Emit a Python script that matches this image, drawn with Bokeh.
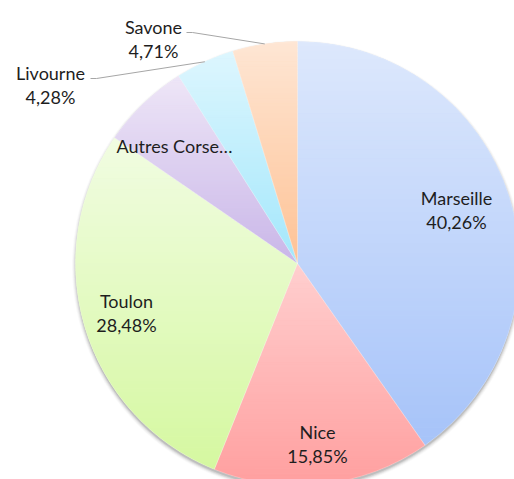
import math
from bokeh.plotting import figure
from bokeh.models import Range1d, ColumnDataSource
from bokeh.core.properties import value
from bokeh.embed import file_html
from bokeh.resources import INLINE

# ---- data ----
cities = ["Marseille", "Nice", "Toulon", "Autres Corse…", "Livourne", "Savone"]
shares = [40.26, 15.85, 28.48, 6.42, 4.28, 4.71]

# ---- style ----
top_colors = ["#dde8fc", "#ffcfcf", "#f1fce2", "#eee6f7", "#ddf6fe", "#fee6d4"]
bot_colors = ["#a6c3f9", "#ff9f9f", "#d5f8a0", "#c9b6e8", "#a3e7fb", "#fec295"]
mid_colors = ["#c2d6fa", "#ffb8b8", "#e3fac0", "#dccdef", "#c0effc", "#fed4b4"]

CX, CY, R = 297.0, -263.0, 222.0
FONT = "Lato"
FS = "18px"
TXT = "#1e1e1e"

# label layout: (x centre, y of first line middle), in image pixels
label_pos = [(456, 197), (317, 431), (126, 300), (174, 145), (50, 72), (153, 26)]
leader_from = {4: (90, 78, 96), 5: (186, 32, 192)}

W, H = 514, 479
p = figure(width=W, height=H, output_backend="svg", toolbar_location=None,
           x_range=Range1d(0, W), y_range=Range1d(-H, 0),
           min_border=0, border_fill_color="white", outline_line_color=None)
p.axis.visible = False
p.xgrid.visible = False
p.ygrid.visible = False

# angles (clockwise from 12 o'clock)
total = sum(shares)
starts, ends, mids = [], [], []
a = 90.0
for s in shares:
    span = 360.0 * s / total
    starts.append(math.radians(a - span))
    ends.append(math.radians(a))
    mids.append(math.radians(a - span / 2))
    a -= span

# soft shadow
for k, al in enumerate([0.10, 0.07, 0.05, 0.03, 0.02]):
    p.circle(x=[CX], y=[CY - 2.5], radius=R + k * 0.9, fill_color="black",
             fill_alpha=al, line_color=None)

src = ColumnDataSource(dict(city=cities, share=shares, start=starts, end=ends,
                            color=mid_colors))
p.wedge(x=CX, y=CY, radius=R, start_angle="start", end_angle="end",
        direction="anticlock", fill_color="color", line_color=None, source=src)


def hexrgb(h):
    return tuple(int(h[i:i + 2], 16) for i in (1, 3, 5))


def lerp(c1, c2, t):
    a1, a2 = hexrgb(c1), hexrgb(c2)
    return "#%02x%02x%02x" % tuple(round(a1[i] + (a2[i] - a1[i]) * t) for i in range(3))


def clip(poly, f):
    out = []
    n = len(poly)
    for i in range(n):
        cur, prev = poly[i], poly[i - 1]
        fc, fp = f(cur), f(prev)
        if fc >= 0:
            if fp < 0:
                t = fp / (fp - fc)
                out.append((prev[0] + t * (cur[0] - prev[0]), prev[1] + t * (cur[1] - prev[1])))
            out.append(cur)
        elif fp >= 0:
            t = fp / (fp - fc)
            out.append((prev[0] + t * (cur[0] - prev[0]), prev[1] + t * (cur[1] - prev[1])))
    return out


xs_all, ys_all, cols_all = [], [], []
NS = 90
for i in range(len(shares)):
    a0, a1 = starts[i], ends[i]
    steps = max(8, int((a1 - a0) / 0.01))
    poly = [(CX, CY)] + [(CX + R * math.cos(a0 + (a1 - a0) * j / steps),
                          CY + R * math.sin(a0 + (a1 - a0) * j / steps)) for j in range(steps + 1)]
    ymax = max(pt[1] for pt in poly)
    ymin = min(pt[1] for pt in poly)
    h = (ymax - ymin) / NS
    for k in range(NS):
        hi = ymax - k * h
        lo = ymax - (k + 1) * h - 0.6
        sub = clip(poly, lambda pt: pt[1] - lo)
        sub = clip(sub, lambda pt: hi - pt[1]) if sub else sub
        if len(sub) < 3:
            continue
        xs_all.append([pt[0] for pt in sub])
        ys_all.append([pt[1] for pt in sub])
        cols_all.append(lerp(top_colors[i], bot_colors[i], (k + 0.5) / NS))

p.patches(xs=xs_all, ys=ys_all, fill_color=cols_all, line_color=None)

# thin slice separators
p.wedge(x=CX, y=CY, radius=R, start_angle="start", end_angle="end",
        direction="anticlock", fill_color=None, line_color="#ffffff",
        line_alpha=0.35, line_width=0.6, source=src)

# labels
pct = [("%.2f" % s).replace(".", ",") + "%" for s in shares]
lx, ly1, ly2 = [], [], []
for (x, y) in label_pos:
    lx.append(x)
    ly1.append(-y)
    ly2.append(-(y + 24))
p.text(x=lx, y=ly1, text=cities, text_font=value(FONT), text_font_size=FS,
       text_color=TXT, text_align="center", text_baseline="middle")
p.text(x=[lx[i] for i in range(len(cities)) if i != 3],
       y=[ly2[i] for i in range(len(cities)) if i != 3],
       text=[pct[i] for i in range(len(cities)) if i != 3],
       text_font=value(FONT), text_font_size=FS,
       text_color=TXT, text_align="center", text_baseline="middle")

# leader lines
lxs, lys = [], []
for i, (x0, y0, x1) in leader_from.items():
    ex = CX + R * math.cos(mids[i])
    ey = CY + R * math.sin(mids[i])
    lxs.append([x0, x1, ex])
    lys.append([-y0, -y0, ey])
p.multi_line(xs=lxs, ys=lys, line_color="#a6a6a6", line_width=1)

open("out.html", "w").write(file_html(p, INLINE))
